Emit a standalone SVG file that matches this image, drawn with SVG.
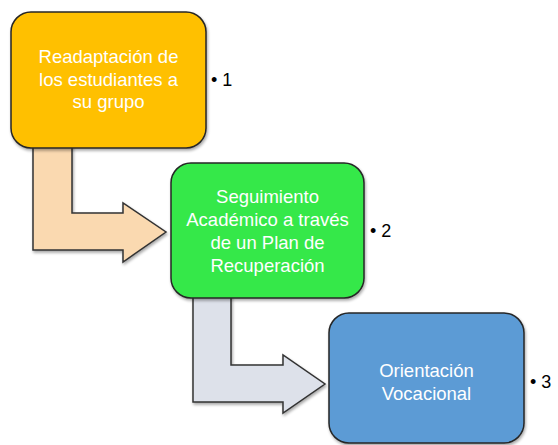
<svg xmlns="http://www.w3.org/2000/svg" width="558" height="445" viewBox="0 0 558 445">
<defs>
<filter id="sh" x="-10%" y="-10%" width="130%" height="130%">
<feGaussianBlur in="SourceAlpha" stdDeviation="1.5"/>
<feOffset dx="1" dy="2" result="b"/>
<feComponentTransfer><feFuncA type="linear" slope="0.35"/></feComponentTransfer>
<feMerge><feMergeNode/><feMergeNode in="SourceGraphic"/></feMerge>
</filter>
<linearGradient id="hl" x1="0" y1="0" x2="0" y2="1">
<stop offset="0" stop-color="#fff" stop-opacity="0"/>
<stop offset="0.3" stop-color="#fff" stop-opacity="0.8"/>
<stop offset="0.7" stop-color="#fff" stop-opacity="0.8"/>
<stop offset="1" stop-color="#fff" stop-opacity="0"/>
</linearGradient>
</defs>
<style>
.box{stroke:#262626;stroke-width:1.5}
.arr{stroke:#333;stroke-width:1.5;stroke-linejoin:miter}
.hl{fill:none;stroke:url(#hl);stroke-width:3;stroke-linecap:round}
.t{font-family:"Liberation Sans",Arial,sans-serif;font-size:18.5px;fill:#fff;text-anchor:middle}
.b{font-family:"Liberation Sans",Arial,sans-serif;font-size:18px;fill:#000}
</style>
<g id="connectors">
<path class="arr" filter="url(#sh)" fill="#FAD9B0" d="M33,140 L72,140 L72,213 L123,213 L123,203 L166,232 L123,262 L123,250 L33,250 Z"/>
<path class="arr" filter="url(#sh)" fill="#DDE1EA" d="M193,290 L231,290 L231,365 L283,365 L283,355 L325,384 L283,413 L283,402 L193,402 Z"/>
</g>
<g id="node1">
<rect class="box" filter="url(#sh)" x="11" y="12" width="195" height="136" rx="20" fill="#FFC000"/>
<line class="hl" x1="19" y1="30" x2="19" y2="130"/>
<line class="hl" x1="198" y1="30" x2="198" y2="130"/>
<text class="t" x="108.5" y="63">Readaptación de</text>
<text class="t" x="108.5" y="86">los estudiantes a</text>
<text class="t" x="108.5" y="108">su grupo</text>
</g>
<g id="node2">
<rect class="box" filter="url(#sh)" x="171" y="163" width="193" height="135" rx="20" fill="#36E84A"/>
<line class="hl" x1="179" y1="181" x2="179" y2="280"/>
<line class="hl" x1="356" y1="181" x2="356" y2="280"/>
<text class="t" x="267.5" y="203">Seguimiento</text>
<text class="t" x="267.5" y="226">Académico a través</text>
<text class="t" x="267.5" y="249">de un Plan de</text>
<text class="t" x="267.5" y="272">Recuperación</text>
</g>
<g id="node3">
<rect class="box" filter="url(#sh)" x="329" y="313" width="195" height="130" rx="20" fill="#5B9BD5"/>
<line class="hl" x1="337" y1="331" x2="337" y2="428"/>
<line class="hl" x1="516" y1="331" x2="516" y2="428"/>
<text class="t" x="426.5" y="377">Orientación</text>
<text class="t" x="426.5" y="400">Vocacional</text>
</g>
<g id="labels">
<text class="b" x="211" y="86">• 1</text>
<text class="b" x="370" y="237">• 2</text>
<text class="b" x="530" y="388">• 3</text>
</g>
</svg>
